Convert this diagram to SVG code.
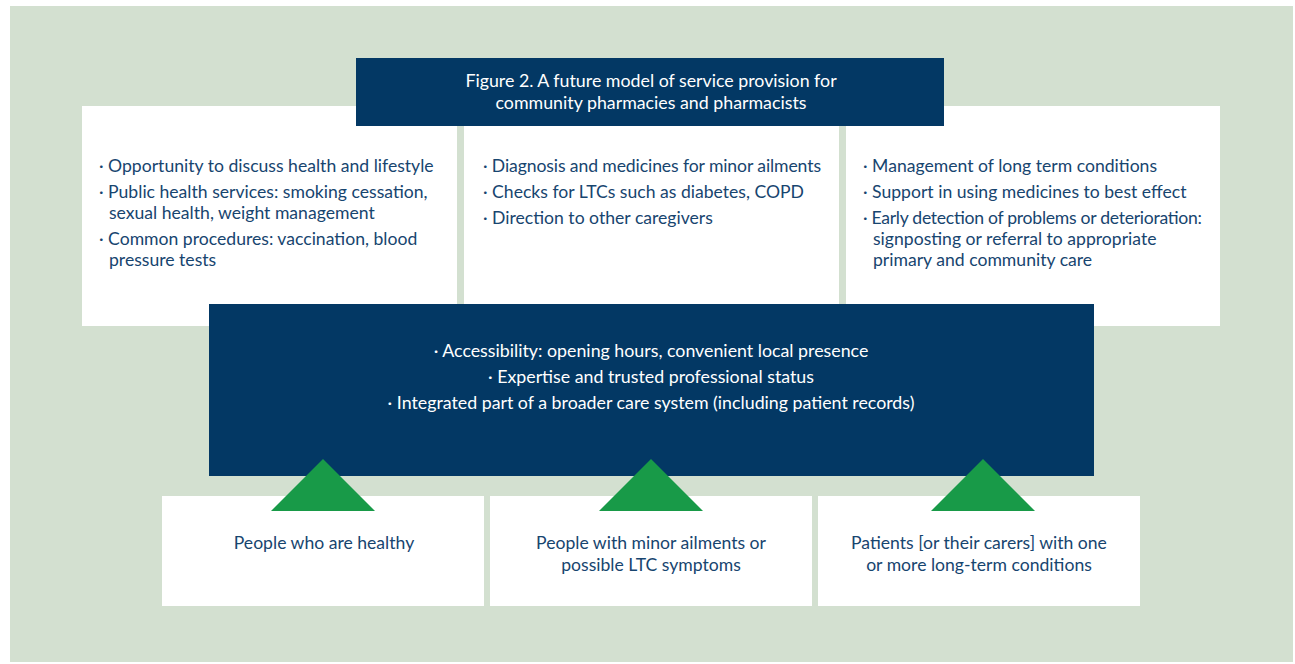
<svg xmlns="http://www.w3.org/2000/svg" width="1295" height="664" viewBox="0 0 1295 664">
  <style>
    .panel { fill: #ffffff; }
    .dark { fill: #033864; }
    .arrow { fill: #189a48; }
    .t { font-family: Lato, "Open Sans", "Liberation Sans", sans-serif; font-size: 17.6px; fill: #17456f; }
    .w { font-family: Lato, "Open Sans", "Liberation Sans", sans-serif; font-size: 17.8px; fill: #ffffff; }
    .c { text-anchor: middle; }
  </style>

  <!-- backdrop -->
  <rect x="10" y="6" width="1283" height="656" fill="#d3e0d0"/>

  <!-- top row: service panels -->
  <g id="panel-healthy-services">
    <rect class="panel" x="82" y="106" width="375" height="220"/>
    <text class="t" x="99" y="172">· Opportunity to discuss health and lifestyle</text>
    <text class="t" x="99" y="198">· Public health services: smoking cessation,</text>
    <text class="t" x="109" y="219">sexual health, weight management</text>
    <text class="t" x="99" y="245">· Common procedures: vaccination, blood</text>
    <text class="t" x="109" y="266">pressure tests</text>
  </g>

  <g id="panel-minor-ailments-services">
    <rect class="panel" x="464" y="106" width="375" height="220"/>
    <text class="t" x="483" y="172" textLength="338" lengthAdjust="spacing">· Diagnosis and medicines for minor ailments</text>
    <text class="t" x="483" y="198">· Checks for LTCs such as diabetes, COPD</text>
    <text class="t" x="483" y="224">· Direction to other caregivers</text>
  </g>

  <g id="panel-ltc-services">
    <rect class="panel" x="846" y="106" width="374" height="220"/>
    <text class="t" x="863" y="172">· Management of long term conditions</text>
    <text class="t" x="863" y="198">· Support in using medicines to best effect</text>
    <text class="t" x="863" y="224" textLength="339" lengthAdjust="spacing">· Early detection of problems or deterioration:</text>
    <text class="t" x="873" y="245">signposting or referral to appropriate</text>
    <text class="t" x="873" y="266">primary and community care</text>
  </g>

  <!-- title banner -->
  <g id="title">
    <rect class="dark" x="356" y="58" width="588" height="68"/>
    <text class="w c" x="651" y="87">Figure 2. A future model of service provision for</text>
    <text class="w c" x="651" y="109">community pharmacies and pharmacists</text>
  </g>

  <!-- central foundation block -->
  <g id="foundation">
    <rect class="dark" x="209" y="304" width="885" height="172"/>
    <text class="w c" x="651" y="357">· Accessibility: opening hours, convenient local presence</text>
    <text class="w c" x="651" y="383">· Expertise and trusted professional status</text>
    <text class="w c" x="651" y="409">· Integrated part of a broader care system (including patient records)</text>
  </g>

  <!-- bottom row: population groups -->
  <g id="group-healthy">
    <rect class="panel" x="162" y="496" width="322" height="110"/>
    <text class="t c" x="324" y="549">People who are healthy</text>
  </g>

  <g id="group-minor-ailments">
    <rect class="panel" x="490" y="496" width="322" height="110"/>
    <text class="t c" x="651" y="549">People with minor ailments or</text>
    <text class="t c" x="651" y="571">possible LTC symptoms</text>
  </g>

  <g id="group-ltc">
    <rect class="panel" x="818" y="496" width="322" height="110"/>
    <text class="t c" x="979" y="549">Patients [or their carers] with one</text>
    <text class="t c" x="979" y="571">or more long-term conditions</text>
  </g>

  <!-- upward arrows linking groups to the foundation -->
  <g id="connectors">
    <polygon class="arrow" points="323,459 375,511 271,511"/>
    <polygon class="arrow" points="651,459 703,511 599,511"/>
    <polygon class="arrow" points="983,459 1035,511 931,511"/>
  </g>
</svg>
